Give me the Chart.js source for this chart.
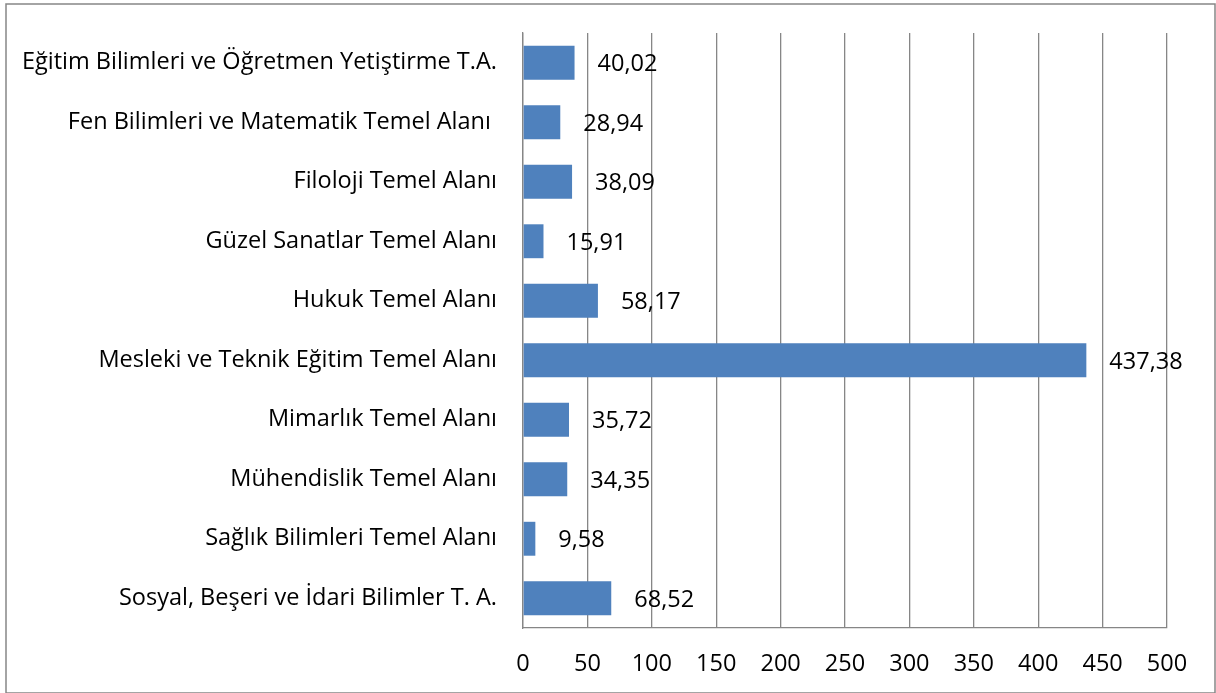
<!DOCTYPE html>
<html>
<head>
<meta charset="utf-8">
<script src="https://cdn.jsdelivr.net/npm/chart.js@4"></script>
<style>
  html, body { margin: 0; padding: 0; background: #fff; }
  #wrap { width: 1216px; height: 693px; }
</style>
</head>
<body>
<div id="wrap"><canvas id="chart1" width="1216" height="693"></canvas></div>
<script>
const categories = [
  'Eğitim Bilimleri ve Öğretmen Yetiştirme T.A.',
  'Fen Bilimleri ve Matematik Temel Alanı ',
  'Filoloji Temel Alanı',
  'Güzel Sanatlar Temel Alanı',
  'Hukuk Temel Alanı',
  'Mesleki ve Teknik Eğitim Temel Alanı',
  'Mimarlık Temel Alanı',
  'Mühendislik Temel Alanı',
  'Sağlık Bilimleri Temel Alanı',
  'Sosyal, Beşeri ve İdari Bilimler T. A.'
];
const values = [40.02, 28.94, 38.09, 15.91, 58.17, 437.38, 35.72, 34.35, 9.58, 68.52];
const xMin = 0;
const xMax = 500;
const xStep = 50;

const gridColor = '#868686';
const barColor = '#4F81BD';
const fontFamily = "'Open Sans', 'Noto Sans', sans-serif";
const fontSize = 23.5;

function fmt(v) {
  return v.toFixed(2).replace('.', ',');
}

// frame around the whole picture
const framePlugin = {
  id: 'frame',
  beforeDraw(chart) {
    const c = chart.ctx;
    c.save();
    c.fillStyle = '#fff';
    c.fillRect(0, 0, chart.width, chart.height);
    c.strokeStyle = gridColor;
    c.lineWidth = 1.5;
    c.strokeRect(6, 4, 1209, 689);
    c.restore();
  }
};

// value labels right of each bar
const valueLabels = {
  id: 'valueLabels',
  afterDatasetsDraw(chart) {
    const c = chart.ctx;
    const meta = chart.getDatasetMeta(0);
    c.save();
    c.font = fontSize + 'px ' + fontFamily;
    c.fillStyle = '#000';
    c.textAlign = 'left';
    c.textBaseline = 'middle';
    meta.data.forEach(function(bar, i) {
      c.fillText(fmt(values[i]), bar.x + 23, bar.y + 2);
    });
    c.restore();
  }
};

const ctx = document.getElementById('chart1');

const chart1 = new Chart(ctx, {
  type: 'bar',
  data: {
    labels: categories,
    datasets: [{
      data: values,
      backgroundColor: barColor,
      borderWidth: 0,
      barPercentage: 0.57,
      categoryPercentage: 1
    }]
  },
  options: {
    indexAxis: 'y',
    responsive: false,
    animation: false,
    layout: { padding: { top: 33, right: 49, left: 0, bottom: 0 } },
    plugins: {
      legend: { display: false },
      tooltip: { enabled: false }
    },
    scales: {
      x: {
        min: xMin,
        max: xMax,
        afterFit: function(s) { s.height = 65; },
        grid: { color: gridColor, lineWidth: 1.3, drawTicks: false },
        border: { color: gridColor, width: 1.3 },
        ticks: {
          stepSize: xStep,
          padding: 22,
          color: '#000',
          font: { family: fontFamily, size: fontSize }
        }
      },
      y: {
        afterFit: function(s) {
          s.width = 523;
          s.paddingTop = 0;
          s.paddingBottom = 0;
        },
        grid: { display: false, drawTicks: false },
        border: { color: gridColor, width: 1.3 },
        ticks: {
          padding: 26,
          color: '#000',
          font: { family: fontFamily, size: fontSize }
        }
      }
    }
  },
  plugins: [framePlugin, valueLabels]
});
</script>
</body>
</html>
